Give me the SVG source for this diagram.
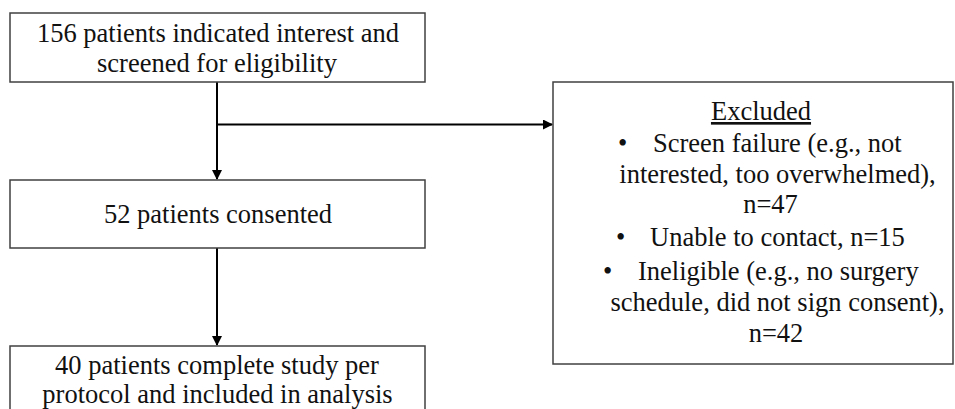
<svg xmlns="http://www.w3.org/2000/svg" width="955" height="409" viewBox="0 0 955 409">
<defs>
<marker id="ah" markerWidth="10" markerHeight="10" refX="9" refY="5" orient="auto" markerUnits="userSpaceOnUse">
<path d="M0,0 L10,5 L0,10 Z" fill="#000"/>
</marker>
<style>
.box{fill:#fff;stroke:#404040;stroke-width:1.5}
.t{font-family:'Liberation Serif','Times New Roman',serif;font-size:26.5px;fill:#111}
.c{text-anchor:middle}
.ln{stroke:#000;stroke-width:2;fill:none}
</style>
</defs>
<rect width="955" height="409" fill="#fff"/>
<g id="connectors">
<line class="ln" x1="217" y1="82" x2="217" y2="179" marker-end="url(#ah)"/>
<line class="ln" x1="217" y1="124.5" x2="552" y2="124.5" marker-end="url(#ah)"/>
<line class="ln" x1="217" y1="248" x2="217" y2="345" marker-end="url(#ah)"/>
</g>
<g id="n1">
<rect class="box" x="10" y="13" width="415" height="69"/>
<text class="t c" x="218" y="42">156 patients indicated interest and</text>
<text class="t c" x="217" y="72">screened for eligibility</text>
</g>
<g id="n2">
<rect class="box" x="10" y="180" width="415" height="68"/>
<text class="t c" x="218" y="223">52 patients consented</text>
</g>
<g id="n3">
<rect class="box" x="10" y="346" width="415" height="70"/>
<text class="t c" x="217" y="374">40 patients complete study per</text>
<text class="t c" x="217.5" y="403">protocol and included in analysis</text>
</g>
<g id="excluded">
<rect class="box" x="553" y="82" width="400" height="282"/>
<text class="t c" x="761" y="120" text-decoration="underline">Excluded</text>
<text class="t" x="618" y="152">•</text>
<text class="t" x="653" y="152">Screen failure (e.g., not</text>
<text class="t c" x="777.5" y="183">interested, too overwhelmed),</text>
<text class="t c" x="770.5" y="213">n=47</text>
<text class="t" x="616" y="246">•</text>
<text class="t" x="650" y="246">Unable to contact, n=15</text>
<text class="t" x="603" y="280">•</text>
<text class="t" x="638" y="280">Ineligible (e.g., no surgery</text>
<text class="t c" x="777.5" y="311">schedule, did not sign consent),</text>
<text class="t c" x="776" y="342">n=42</text>
</g>
</svg>
